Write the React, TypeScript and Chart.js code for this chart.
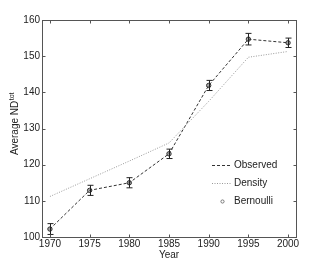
import React, { useEffect, useRef } from "react";
import { Chart, registerables } from "chart.js";

Chart.register(...registerables);

const years = [1970, 1975, 1980, 1985, 1990, 1995, 2000];
const observed = [102.2, 112.9, 115.0, 123.0, 141.9, 154.7, 153.7];
const density = [111.2, 116.1, 121.0, 126.0, 137.5, 149.7, 151.3];
const bernoulli = [102.2, 112.9, 115.0, 123.0, 141.9, 154.7, 153.7];
const bernoulliErr = [1.5, 1.4, 1.4, 1.3, 1.4, 1.6, 1.3];
const xTicks = [1970, 1975, 1980, 1985, 1990, 1995, 2000];
const yTicks = [100, 110, 120, 130, 140, 150, 160];
const legendLabels = ["Observed", "Density", "Bernoulli"];
const xTitle = "Year";
const yTitleMain = "Average ND";
const yTitleSup = "tot";

const FONT = "'Liberation Sans', Arial, Helvetica, sans-serif";

const customDraw = {
  id: "customDraw",
  afterDatasetsDraw(chart: any) {
    const ctx = chart.ctx;
    const xs = chart.scales.x;
    const ys = chart.scales.y;
    ctx.save();
    ctx.strokeStyle = "#222";
    ctx.lineWidth = 1;
    ctx.setLineDash([]);
    years.forEach((yr, i) => {
      const x = Math.round(xs.getPixelForValue(yr)) + 0.5;
      const y1 = ys.getPixelForValue(bernoulli[i] - bernoulliErr[i]);
      const y2 = ys.getPixelForValue(bernoulli[i] + bernoulliErr[i]);
      ctx.beginPath();
      ctx.moveTo(x, y1);
      ctx.lineTo(x, y2);
      ctx.moveTo(x - 3, y1);
      ctx.lineTo(x + 3, y1);
      ctx.moveTo(x - 3, y2);
      ctx.lineTo(x + 3, y2);
      ctx.stroke();
    });
    ctx.restore();
  },
  afterDraw(chart: any) {
    const ctx = chart.ctx;
    const a = chart.chartArea;
    const xs = chart.scales.x;
    const ys = chart.scales.y;
    ctx.save();
    // frame
    ctx.strokeStyle = "#555";
    ctx.lineWidth = 1;
    ctx.setLineDash([]);
    const L = Math.round(a.left) + 0.5;
    const R = Math.round(a.right) + 0.5;
    const T = Math.round(a.top) + 0.5;
    const B = Math.round(a.bottom) + 0.5;
    ctx.strokeRect(L, T, R - L, B - T);
    ctx.beginPath();
    xTicks.forEach((v) => {
      const x = Math.round(xs.getPixelForValue(v)) + 0.5;
      ctx.moveTo(x, B);
      ctx.lineTo(x, B - 3);
      ctx.moveTo(x, T);
      ctx.lineTo(x, T + 3);
    });
    yTicks.forEach((v) => {
      const y = Math.round(ys.getPixelForValue(v)) + 0.5;
      ctx.moveTo(L, y);
      ctx.lineTo(L + 3, y);
      ctx.moveTo(R, y);
      ctx.lineTo(R - 3, y);
    });
    ctx.stroke();

    // x title
    ctx.fillStyle = "#222";
    ctx.font = `10px ${FONT}`;
    ctx.textAlign = "center";
    ctx.textBaseline = "alphabetic";
    ctx.fillText(xTitle, (a.left + a.right) / 2, 258);

    // y title with superscript
    ctx.save();
    ctx.translate(18, 124);
    ctx.rotate(-Math.PI / 2);
    ctx.textAlign = "left";
    ctx.font = `10px ${FONT}`;
    const w1 = ctx.measureText(yTitleMain).width;
    ctx.font = `7px ${FONT}`;
    const w2 = ctx.measureText(yTitleSup).width;
    const start = -(w1 + w2) / 2;
    ctx.font = `10px ${FONT}`;
    ctx.fillText(yTitleMain, start, 0);
    ctx.font = `7px ${FONT}`;
    ctx.fillText(yTitleSup, start + w1 + 0.5, -4);
    ctx.restore();

    // legend
    const lx1 = 212;
    const lx2 = 232;
    const ly = [165, 183, 201];
    ctx.font = `10px ${FONT}`;
    ctx.textAlign = "left";
    ctx.textBaseline = "middle";
    ctx.lineWidth = 1;
    ctx.strokeStyle = "#333";
    ctx.setLineDash([3, 2]);
    ctx.beginPath();
    ctx.moveTo(lx1, ly[0] + 0.5);
    ctx.lineTo(lx2, ly[0] + 0.5);
    ctx.stroke();
    ctx.strokeStyle = "#999";
    ctx.setLineDash([1, 1.5]);
    ctx.beginPath();
    ctx.moveTo(lx1, ly[1] + 0.5);
    ctx.lineTo(lx2, ly[1] + 0.5);
    ctx.stroke();
    ctx.setLineDash([]);
    ctx.strokeStyle = "#777";
    ctx.beginPath();
    ctx.arc(222.5, ly[2] + 0.5, 1.6, 0, Math.PI * 2);
    ctx.stroke();
    ctx.fillStyle = "#222";
    legendLabels.forEach((t, i) => ctx.fillText(t, 234, ly[i] + 0.5));
    ctx.restore();
  },
};

export default function App() {
  const ref = useRef<HTMLCanvasElement | null>(null);
  useEffect(() => {
    if (!ref.current) return;
    const chart = new Chart(ref.current, {
      type: "line",
      data: {
        datasets: [
          {
            label: "Density",
            data: years.map((x, i) => ({ x, y: density[i] })),
            borderColor: "#999",
            borderWidth: 1,
            borderDash: [1, 1.5],
            pointRadius: 0,
            fill: false,
          },
          {
            label: "Observed",
            data: years.map((x, i) => ({ x, y: observed[i] })),
            borderColor: "#333",
            borderWidth: 1,
            borderDash: [3, 2],
            pointRadius: 0,
            fill: false,
          },
          {
            label: "Bernoulli",
            data: years.map((x, i) => ({ x, y: bernoulli[i] })),
            showLine: false,
            borderColor: "#333",
            backgroundColor: "rgba(0,0,0,0)",
            pointRadius: 2.2,
            pointBorderWidth: 1,
            pointBorderColor: "#333",
            pointBackgroundColor: "rgba(80,80,80,0.5)",
          },
        ],
      },
      options: {
        responsive: false,
        animation: false,
        devicePixelRatio: 1,
        layout: { padding: { top: 20, right: 31, left: 0, bottom: 0 } },
        plugins: { legend: { display: false }, tooltip: { enabled: false } },
        scales: {
          x: {
            type: "linear",
            min: 1969,
            max: 2001,
            afterBuildTicks: (s: any) => {
              s.ticks = xTicks.map((v) => ({ value: v }));
            },
            afterFit: (s: any) => {
              s.height = 30;
            },
            grid: { display: false, drawTicks: false },
            border: { display: false },
            ticks: {
              padding: 1,
              maxRotation: 0,
              autoSkip: false,
              color: "#222",
              font: { family: FONT, size: 10 },
              callback: (v: any) => String(v),
            },
          },
          y: {
            type: "linear",
            min: 100,
            max: 160,
            afterBuildTicks: (s: any) => {
              s.ticks = yTicks.map((v) => ({ value: v }));
            },
            afterFit: (s: any) => {
              s.width = 42;
            },
            grid: { display: false, drawTicks: false },
            border: { display: false },
            ticks: {
              padding: 2,
              autoSkip: false,
              color: "#222",
              font: { family: FONT, size: 10 },
              callback: (v: any) => String(v),
            },
          },
        },
      },
      plugins: [customDraw],
    });
    return () => chart.destroy();
  }, []);
  return (
    <div style={{ position: "absolute", left: 0, top: 0, width: 327, height: 267, background: "#fff" }}>
      <canvas ref={ref} width={327} height={267} style={{ width: 327, height: 267, display: "block" }} />
    </div>
  );
}
